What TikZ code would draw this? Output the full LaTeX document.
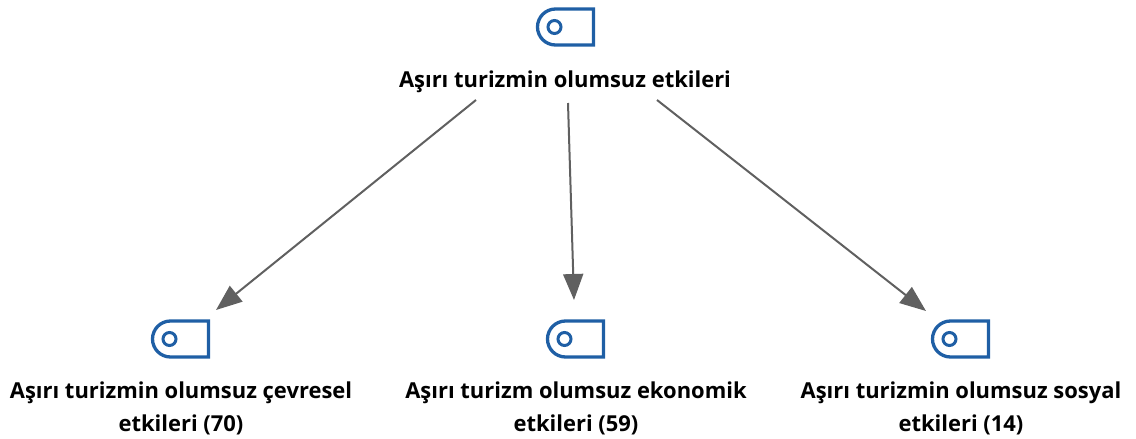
\documentclass[tikz,border=0pt]{standalone}
\usepackage{fontspec}
\setmainfont{Open Sans}
\usetikzlibrary{arrows.meta}
\definecolor{iconblue}{HTML}{1F5FA5}
\definecolor{arrowgray}{HTML}{606060}
\tikzset{
  x=1pt,y=-1pt,
  lbl/.style={font=\bfseries\fontsize{21.95}{33}\selectfont,align=center,text=black,inner sep=0pt},
  conn/.style={draw=arrowgray,line width=2pt,-{Triangle[length=26pt,width=20pt,fill=arrowgray]}},
  iconline/.style={draw=iconblue,line width=3.3pt,line join=miter},
}
\newcommand{\srcicon}[1]{%
  \begin{scope}[shift={(#1)}]
    \draw[iconline] (28,-18) -- (-10,-18) arc[start angle=270,end angle=90,radius=18] -- (28,18) -- cycle;
    \draw[iconline,line width=3pt] (-11,0) circle[radius=6.5];
  \end{scope}}
\begin{document}
\begin{tikzpicture}
\useasboundingbox (0,0) rectangle (1136,439);
\srcicon{565.5,27}
\srcicon{180.5,339}
\srcicon{575.5,339}
\srcicon{960.5,339}
\node[lbl] (top) at (565,82) {Aşırı turizmin olumsuz etkileri};
\node[lbl] (env) at (181,408.5) {Aşırı turizmin olumsuz çevresel\\etkileri (70)};
\node[lbl] (eco) at (576,408.5) {Aşırı turizm olumsuz ekonomik\\etkileri (59)};
\node[lbl] (soc) at (961,408.5) {Aşırı turizmin olumsuz sosyal\\etkileri (14)};
\coordinate (s1) at (476,100);
\coordinate (s2) at (568,103);
\coordinate (s3) at (657,100);
\coordinate (e1) at (216,310);
\coordinate (e2) at (574,300);
\coordinate (e3) at (926,311);
\draw[conn] (s1) -- (e1);
\draw[conn] (s2) -- (e2);
\draw[conn] (s3) -- (e3);
\end{tikzpicture}
\end{document}
